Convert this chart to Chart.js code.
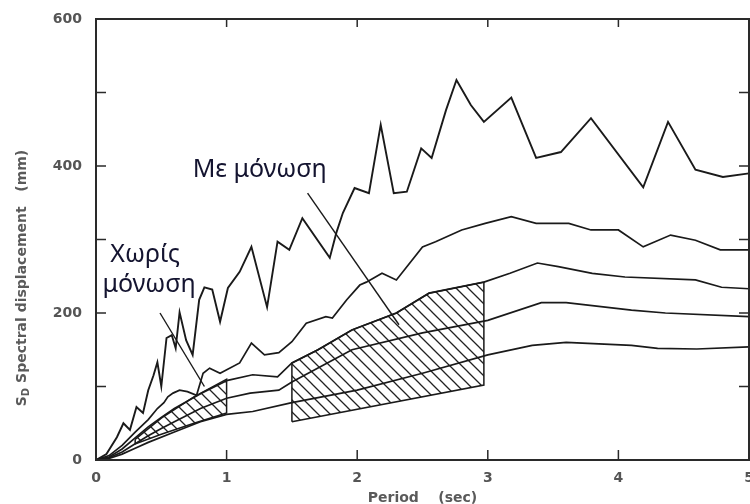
<!DOCTYPE html>
<html>
<head>
<meta charset="utf-8">
<script src="https://cdn.jsdelivr.net/npm/chart.js@4.4.1/dist/chart.umd.min.js"></script>
<style>
  html, body { margin: 0; padding: 0; background: #fff; }
  #wrap { width: 750px; height: 504px; }
</style>
</head>
<body>
<div id="wrap"><canvas id="sdChart" width="750" height="504"></canvas></div>
<script>
// Period (sec) and Sd (mm)

// jagged top curve
const upperT  = [0, 0.08, 0.16, 0.21, 0.26, 0.31, 0.36, 0.40, 0.44, 0.47, 0.50, 0.54, 0.58, 0.61, 0.64, 0.69, 0.74, 0.79, 0.83, 0.89, 0.95, 1.01, 1.10, 1.19, 1.31, 1.39, 1.48, 1.58, 1.79, 1.84, 1.89, 1.98, 2.09, 2.18, 2.28, 2.38, 2.49, 2.57, 2.68, 2.76, 2.87, 2.97, 3.18, 3.37, 3.56, 3.79, 4.19, 4.38, 4.59, 4.80, 5.00];
const upperSd = [0, 8, 31, 50, 41, 72, 64, 95, 115, 133, 100, 166, 170, 152, 201, 163, 143, 218, 235, 232, 188, 234, 256, 290, 208, 297, 286, 329, 275, 309, 336, 370, 363, 456, 363, 365, 424, 411, 476, 517, 483, 460, 493, 411, 419, 465, 371, 460, 395, 385, 390];

// second curve
const secondT  = [0, 0.10, 0.20, 0.30, 0.40, 0.47, 0.52, 0.55, 0.59, 0.64, 0.70, 0.77, 0.82, 0.87, 0.95, 1.10, 1.19, 1.29, 1.40, 1.50, 1.61, 1.76, 1.81, 1.92, 2.02, 2.07, 2.19, 2.30, 2.50, 2.60, 2.80, 2.98, 3.18, 3.37, 3.62, 3.79, 4.00, 4.19, 4.40, 4.59, 4.78, 5.00];
const secondSd = [0, 6, 20, 38, 55, 70, 78, 86, 91, 95, 93, 88, 118, 125, 118, 132, 159, 143, 146, 161, 186, 195, 193, 218, 238, 242, 254, 245, 290, 297, 313, 322, 331, 322, 322, 313, 313, 290, 306, 299, 286, 286];

// third curve
const thirdT  = [0, 0.10, 0.20, 0.30, 0.40, 0.50, 0.60, 0.80, 1.00, 1.20, 1.39, 1.50, 1.70, 1.96, 2.30, 2.55, 2.97, 3.17, 3.38, 3.54, 3.80, 4.05, 4.59, 4.79, 5.00];
const thirdSd = [0, 4, 15, 30, 45, 58, 70, 90, 108, 116, 113, 132, 150, 177, 200, 227, 242, 254, 268, 263, 254, 249, 245, 235, 233];

// fourth curve
const fourthT  = [0, 0.10, 0.20, 0.30, 0.40, 0.50, 0.60, 0.80, 1.00, 1.18, 1.40, 1.50, 1.96, 2.50, 3.00, 3.41, 3.60, 4.10, 4.36, 5.00];
const fourthSd = [0, 3, 11, 22, 33, 43, 52, 70, 84, 91, 95, 106, 150, 173, 190, 214, 214, 204, 200, 195];

// lowest curve
const fifthT  = [0, 0.10, 0.20, 0.30, 0.40, 0.60, 0.80, 1.00, 1.20, 1.50, 2.00, 2.50, 3.00, 3.34, 3.60, 4.10, 4.30, 4.60, 5.00];
const fifthSd = [0, 2, 8, 16, 24, 38, 52, 62, 66, 78, 95, 118, 143, 156, 160, 156, 152, 151, 154];

// hatched zones
const smallHatchT  = [0.30, 0.50, 0.75, 1.00, 1.00, 0.75, 0.50, 0.30, 0.30];
const smallHatchSd = [28, 57, 86, 110, 64, 50, 35, 22, 28];
const bigHatchT  = [1.50, 1.50, 1.70, 1.96, 2.30, 2.55, 2.97, 2.97, 1.50];
const bigHatchSd = [52, 132, 150, 177, 200, 227, 242, 102, 52];

// pointer lines
const withPtrT  = [1.62, 2.32];
const withPtrSd = [363, 184];
const noPtrT  = [0.49, 0.83];
const noPtrSd = [200, 100];

// labels
const labels = [
  { text: "Με μόνωση", t: 0.74, sd: 385 },
  { text: "Χωρίς", t: 0.11, sd: 270 },
  { text: "μόνωση", t: 0.05, sd: 228 }
];

const xTicks = [0, 1, 2, 3, 4, 5];
const yTicks = [0, 100, 200, 300, 400, 500, 600];
const yLabels = [0, 200, 400, 600];

const pts = (ts, vs) => ts.map((t, i) => ({ x: t, y: vs[i] }));

function hatch() {
  const s = 12;
  const c = document.createElement("canvas");
  c.width = s; c.height = s;
  const g = c.getContext("2d");
  g.strokeStyle = "#222";
  g.lineWidth = 1.3;
  g.beginPath();
  g.moveTo(-1, -1); g.lineTo(s + 1, s + 1);
  g.moveTo(s - 2, -2); g.lineTo(s + 2, 2);
  g.moveTo(-2, s - 2); g.lineTo(2, s + 2);
  g.stroke();
  return g.createPattern(c, "repeat");
}
const ctx = document.getElementById("sdChart").getContext("2d");
const pat = hatch();

const curve = (data, w) => ({
  data, borderColor: "#1a1a1a", borderWidth: w, pointRadius: 0,
  showLine: true, fill: false, tension: 0
});
const zone = data => ({
  data, borderColor: "#1a1a1a", borderWidth: 1.5, pointRadius: 0,
  showLine: true, fill: "shape", backgroundColor: pat, tension: 0, order: 10
});

const decor = {
  id: "decor",
  afterDatasetsDraw(chart) {
    const { ctx, chartArea: a, scales: { x, y } } = chart;
    ctx.save();
    ctx.strokeStyle = "#2a2a2a";
    ctx.lineWidth = 2;
    ctx.strokeRect(a.left, a.top, a.right - a.left, a.bottom - a.top);
    ctx.lineWidth = 1.5;
    ctx.beginPath();
    yTicks.slice(1, -1).forEach(v => {
      const p = y.getPixelForValue(v);
      ctx.moveTo(a.left, p); ctx.lineTo(a.left + 10, p);
      ctx.moveTo(a.right, p); ctx.lineTo(a.right - 10, p);
    });
    xTicks.slice(1, -1).forEach(v => {
      const p = x.getPixelForValue(v);
      ctx.moveTo(p, a.bottom); ctx.lineTo(p, a.bottom - 10);
      ctx.moveTo(p, a.top); ctx.lineTo(p, a.top + 8);
    });
    ctx.stroke();

    // annotation texts
    ctx.fillStyle = "#141430";
    ctx.font = '25px "Noto Sans"';
    ctx.textAlign = "left";
    ctx.textBaseline = "alphabetic";
    labels.forEach(l => ctx.fillText(l.text, x.getPixelForValue(l.t), y.getPixelForValue(l.sd)));

    // axis titles
    ctx.fillStyle = "#5a5a5a";
    ctx.font = 'bold 14px "DejaVu Sans"';
    ctx.textAlign = "center";
    ctx.textBaseline = "middle";
    ctx.fillText("Period    (sec)", (a.left + a.right) / 2, 498);

    ctx.translate(22, 278);
    ctx.rotate(-Math.PI / 2);
    ctx.textAlign = "left";
    const rest = " Spectral displacement   (mm)";
    ctx.font = 'bold 14px "DejaVu Sans"';
    const wS = ctx.measureText("S").width;
    const wR = ctx.measureText(rest).width;
    ctx.font = 'bold 10px "DejaVu Sans"';
    const wD = ctx.measureText("D").width;
    let cx = -(wS + wD + wR) / 2;
    ctx.font = 'bold 14px "DejaVu Sans"';
    ctx.fillText("S", cx, 0);
    cx += wS;
    ctx.font = 'bold 10px "DejaVu Sans"';
    ctx.fillText("D", cx, 4);
    cx += wD;
    ctx.font = 'bold 14px "DejaVu Sans"';
    ctx.fillText(rest, cx, 0);
    ctx.restore();
  }
};

new Chart(ctx, {
  type: "scatter",
  data: {
    datasets: [
      curve(pts(withPtrT, withPtrSd), 1.4),
      curve(pts(noPtrT, noPtrSd), 1.4),
      curve(pts(upperT, upperSd), 1.9),
      curve(pts(secondT, secondSd), 1.7),
      curve(pts(thirdT, thirdSd), 1.7),
      curve(pts(fourthT, fourthSd), 1.7),
      curve(pts(fifthT, fifthSd), 1.7),
      zone(pts(smallHatchT, smallHatchSd)),
      zone(pts(bigHatchT, bigHatchSd))
    ]
  },
  options: {
    responsive: false,
    animation: false,
    events: [],
    layout: { padding: { top: 19, right: 1, left: 0, bottom: 0 } },
    plugins: { legend: { display: false }, tooltip: { enabled: false } },
    scales: {
      x: {
        type: "linear", min: 0, max: 5,
        afterBuildTicks: s => { s.ticks = xTicks.map(v => ({ value: v })); },
        afterFit: s => { s.height = 44; s.paddingLeft = 0; s.paddingRight = 0; },
        grid: { display: false, drawTicks: false },
        border: { display: false },
        ticks: { color: "#555", font: { family: "DejaVu Sans", size: 14, weight: "bold" }, padding: 10, maxRotation: 0, autoSkip: false }
      },
      y: {
        type: "linear", min: 0, max: 600,
        afterBuildTicks: s => { s.ticks = yTicks.map(v => ({ value: v })); },
        afterFit: s => { s.width = 96; s.paddingTop = 0; s.paddingBottom = 0; },
        grid: { display: false, drawTicks: false },
        border: { display: false },
        ticks: {
          color: "#555", font: { family: "DejaVu Sans", size: 14, weight: "bold" }, padding: 14, autoSkip: false,
          callback: v => yLabels.includes(v) ? String(v) : ""
        }
      }
    }
  },
  plugins: [decor]
});
</script>
</body>
</html>
